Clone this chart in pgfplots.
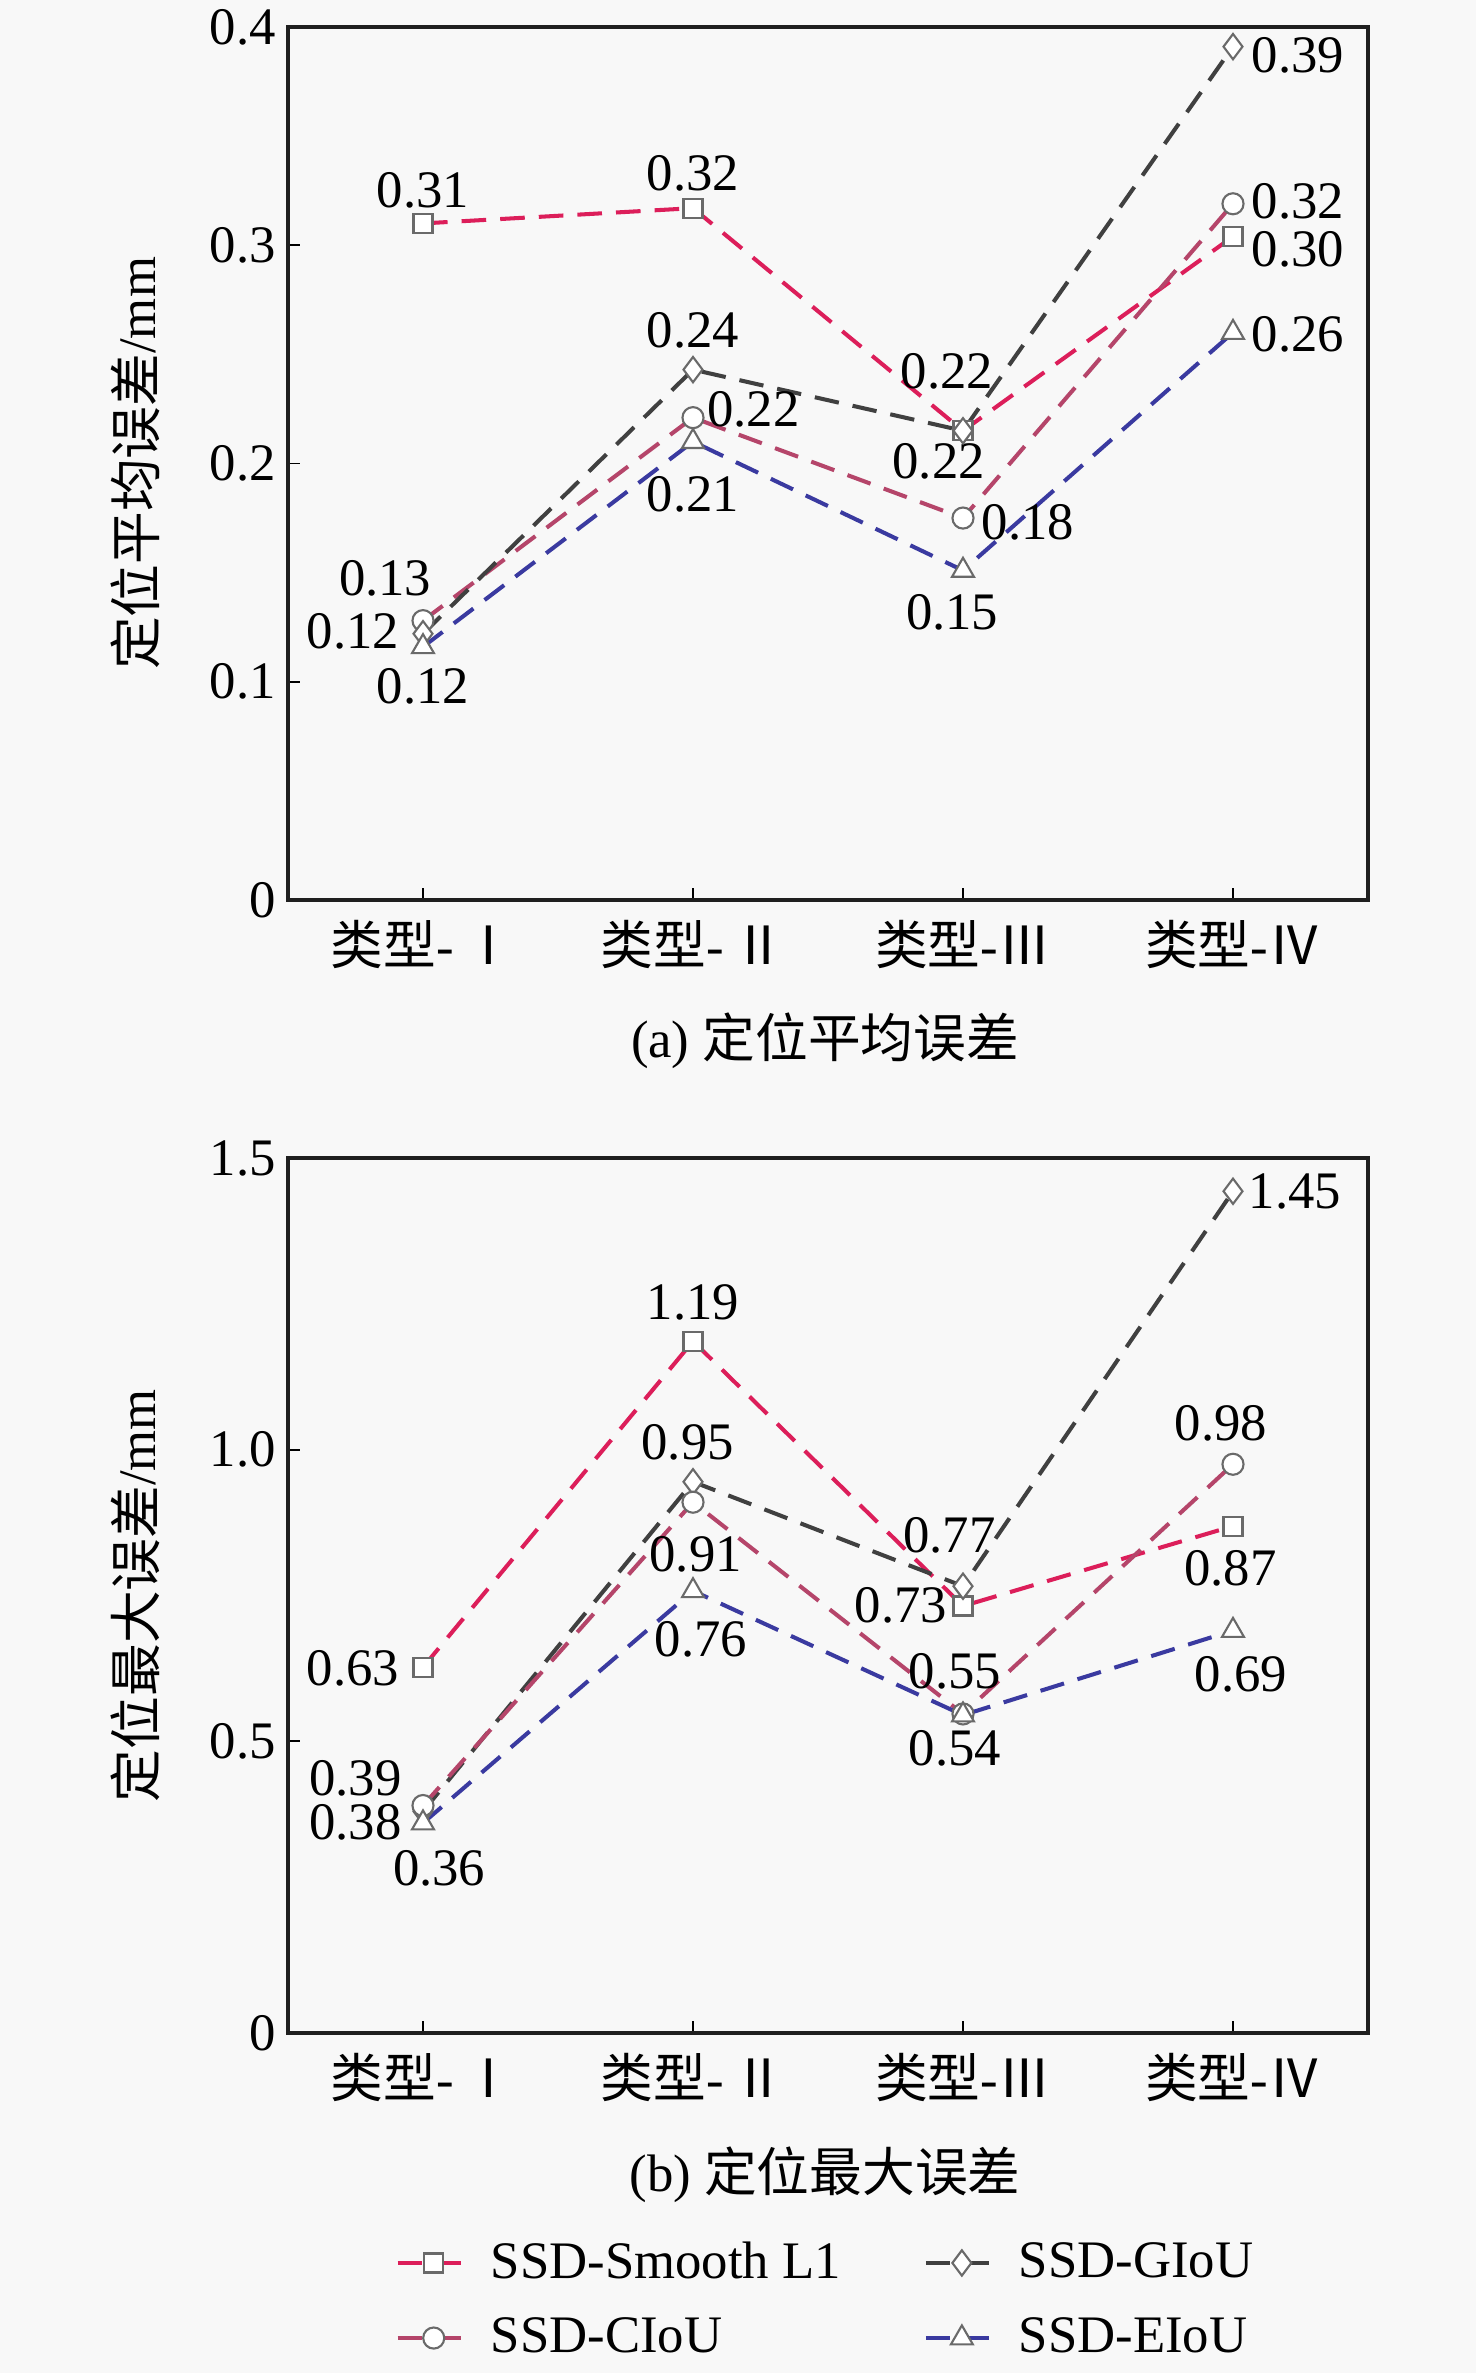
\documentclass[border=0pt]{standalone}
\usepackage{fontspec}
\setmainfont{Liberation Serif}
\newfontfamily\cjk{Noto Sans CJK SC}
\usepackage{pgfplots}
\usepackage{pgfplotstable}
\pgfplotsset{compat=1.18}

\definecolor{cSmooth}{HTML}{DC1E5A}
\definecolor{cGIoU}{HTML}{404040}
\definecolor{cCIoU}{HTML}{B5456A}
\definecolor{cEIoU}{HTML}{3A3AA0}
\definecolor{cMark}{HTML}{6A6A6A}
\definecolor{bg}{HTML}{F8F8F8}

% (a) mean error
\pgfplotstableread{
x y
0 0.310
1 0.317
2 0.215
3 0.304
}\smoothA
\pgfplotstableread{
x y
0 0.122
1 0.243
2 0.215
3 0.391
}\giouA
\pgfplotstableread{
x y
0 0.128
1 0.221
2 0.175
3 0.319
}\ciouA
\pgfplotstableread{
x y
0 0.116
1 0.210
2 0.151
3 0.260
}\eiouA

% (b) max error
\pgfplotstableread{
x y
0 0.627
1 1.186
2 0.732
3 0.869
}\smoothB
\pgfplotstableread{
x y
0 0.380
1 0.945
2 0.766
3 1.443
}\giouB
\pgfplotstableread{
x y
0 0.390
1 0.910
2 0.547
3 0.975
}\ciouB
\pgfplotstableread{
x y
0 0.360
1 0.758
2 0.545
3 0.690
}\eiouB

\newcommand{\fs}{\fontsize{15}{18}\selectfont}

\pgfplotsset{
  panel/.style={
    scale only axis, width=10.80cm,
    xmin=-0.5, xmax=3.5,
    xtick={0,1,2,3},
    xticklabels={{\cjk 类型}-\,{\cjk Ⅰ},{\cjk 类型}-\,{\cjk Ⅱ},{\cjk 类型}-{\cjk Ⅲ},{\cjk 类型}-{\cjk Ⅳ}},
    xtick pos=bottom, ytick pos=left,
    tick align=inside,
    major tick length=0.12cm,
    tick style={black, line width=0.5pt},
    axis line style={line width=0.9pt, black!88},
    ticklabel style={font=\fs},
    xticklabel style={yshift=-0.08cm},
    label style={font=\fs},
    /pgf/number format/assume math mode=true,
    clip=false,
    axis background/.style={fill=bg},
    legend image code/.code={\draw[mark repeat=2,mark phase=2,##1] plot coordinates {(0cm,0cm)(0.36cm,0cm)(0.72cm,0cm)};},
  },
  ln/.style={line width=1.15pt, dash pattern=on 7pt off 4pt,
    mark options={solid, draw=cMark, fill=white, line width=0.6pt}},
  sSmooth/.style={ln, color=cSmooth, mark=square*, mark size=2.7pt},
  sGIoU/.style={ln, color=cGIoU, mark=diamond*, mark size=3.6pt},
  sCIoU/.style={ln, color=cCIoU, mark=*, mark size=3.0pt},
  sEIoU/.style={ln, color=cEIoU, mark=triangle*, mark size=3.6pt},
}

\begin{document}
\begin{tikzpicture}
\fill[bg] (0,0) rectangle (14.76,-23.73);
\useasboundingbox (0,0) rectangle (14.76,-23.73);

\begin{axis}[panel,
  at={(2.88cm,-0.27cm)}, anchor=north west, height=8.73cm,
  ymin=0, ymax=0.4,
  ytick={0,0.1,0.2,0.3,0.4},
  yticklabels={0,0.1,0.2,0.3,0.4},
  ylabel={{\cjk 定位平均误差}/mm},
  ylabel style={at={(axis description cs:-0.141,0.5)}, anchor=center},
]
\addplot[sSmooth] table {\smoothA};
\addplot[sCIoU] table {\ciouA};
\addplot[sGIoU] table {\giouA};
\addplot[sEIoU] table {\eiouA};
\begin{scope}[every node/.style={font=\fs, inner sep=1pt}]
\node at (axis cs:0,0.325) {0.31};
\node at (axis cs:1,0.333) {0.32};
\node at (axis cs:1,0.261) {0.24};
\node at (axis cs:1.224,0.225) {0.22};
\node at (axis cs:1,0.186) {0.21};
\node at (axis cs:1.94,0.242) {0.22};
\node at (axis cs:1.91,0.201) {0.22};
\node at (axis cs:2.24,0.173) {0.18};
\node at (axis cs:1.96,0.132) {0.15};
\node at (axis cs:-0.14,0.1475) {0.13};
\node at (axis cs:-0.26,0.123) {0.12};
\node at (axis cs:0,0.098) {0.12};
\node at (axis cs:3.24,0.387) {0.39};
\node at (axis cs:3.24,0.320) {0.32};
\node at (axis cs:3.24,0.298) {0.30};
\node at (axis cs:3.24,0.259) {0.26};
\end{scope}
\end{axis}
\node[font=\fs] at (8.25,-10.41) {(a) {\cjk 定位平均误差}};

\begin{axis}[panel,
  at={(2.88cm,-11.58cm)}, anchor=north west, height=8.75cm,
  ymin=0, ymax=1.5,
  ytick={0,0.5,1.0,1.5},
  yticklabels={0,0.5,1.0,1.5},
  ylabel={{\cjk 定位最大误差}/mm},
  ylabel style={at={(axis description cs:-0.141,0.5)}, anchor=center},
  legend columns=2,
  legend cell align=left,
  legend style={at={(0.5,-0.222)}, anchor=north, draw=none, fill=none,
    font=\fs, row sep=0.2cm,
    /tikz/every odd column/.append style={column sep=0.12cm},
    /tikz/every even column/.append style={column sep=0.76cm}},
]
\addplot[sSmooth] table {\smoothB};
\addlegendentry{SSD-Smooth L1}
\addplot[sGIoU] table {\giouB};
\addlegendentry{SSD-GIoU}
\addplot[sCIoU] table {\ciouB};
\addlegendentry{SSD-CIoU}
\addplot[sEIoU] table {\eiouB};
\addlegendentry{SSD-EIoU}
\begin{scope}[every node/.style={font=\fs, inner sep=1pt}]
\node at (axis cs:1.0,1.252) {1.19};
\node at (axis cs:0.98,1.012) {0.95};
\node at (axis cs:1.01,0.82) {0.91};
\node at (axis cs:1.03,0.675) {0.76};
\node at (axis cs:-0.26,0.626) {0.63};
\node at (axis cs:-0.25,0.437) {0.39};
\node at (axis cs:-0.25,0.361) {0.38};
\node at (axis cs:0.06,0.283) {0.36};
\node at (axis cs:1.95,0.854) {0.77};
\node at (axis cs:1.77,0.734) {0.73};
\node at (axis cs:1.97,0.62) {0.55};
\node at (axis cs:1.97,0.488) {0.54};
\node at (axis cs:3.23,1.443) {1.45};
\node at (axis cs:2.955,1.046) {0.98};
\node at (axis cs:2.99,0.797) {0.87};
\node at (axis cs:3.03,0.615) {0.69};
\end{scope}
\end{axis}
\node[font=\fs] at (8.25,-21.75) {(b) {\cjk 定位最大误差}};
\end{tikzpicture}
\end{document}
